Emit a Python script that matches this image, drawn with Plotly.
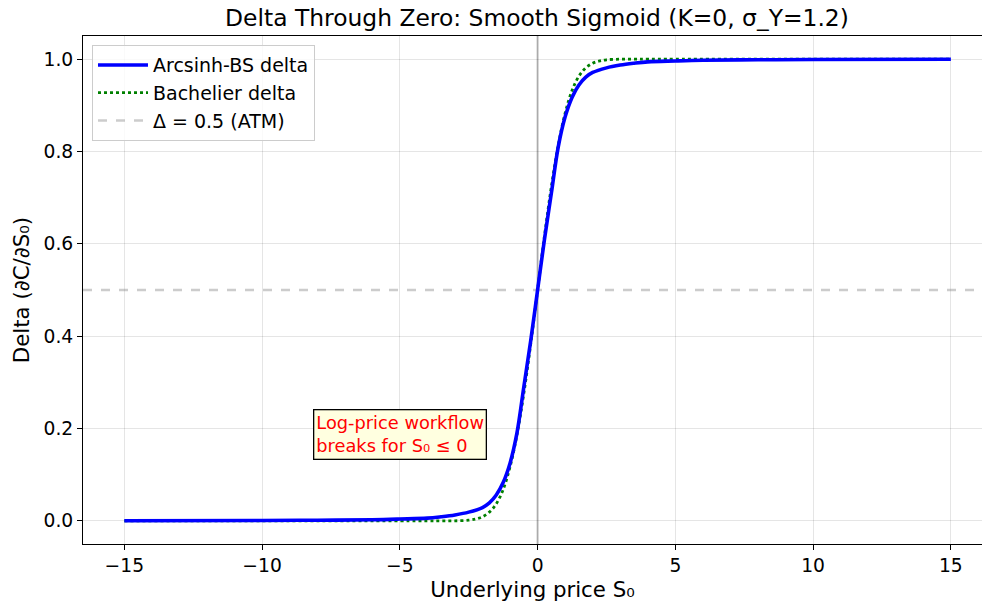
import plotly.graph_objects as go

# ---- data ----
s0_arcsinh = [-15, -10, -8, -6, -5, -4, -3.5, -3, -2.5, -2, -1.75, -1.5, -1.25, -1.0, -0.75, -0.5, -0.25,
              0, 0.25, 0.5, 0.75, 1.0, 1.25, 1.5, 1.75, 2, 2.5, 3, 3.5, 4, 5, 6, 8, 10, 15]
delta_arcsinh = [0.0005, 0.001, 0.0015, 0.0025, 0.004, 0.006, 0.009, 0.013, 0.019, 0.029, 0.039, 0.056, 0.083,
                 0.125, 0.19, 0.29, 0.39,
                 0.5, 0.61, 0.71, 0.81, 0.875, 0.917, 0.944, 0.961, 0.971, 0.981, 0.987, 0.991, 0.994,
                 0.996, 0.9975, 0.9985, 0.999, 0.9995]

s0_bach = [-15, -5, -4, -3.5, -3, -2.5, -2.25, -2, -1.75, -1.5, -1.25, -1.0, -0.75, -0.5, -0.25,
           0, 0.25, 0.5, 0.75, 1.0, 1.25, 1.5, 1.75, 2, 2.25, 2.5, 3, 3.5, 4, 5, 15]
delta_bach = [0.0, 0.0, 0.0, 0.0, 0.0002, 0.0015, 0.004, 0.009, 0.019, 0.037, 0.068, 0.117, 0.186, 0.276, 0.383,
              0.5, 0.617, 0.724, 0.814, 0.883, 0.932, 0.963, 0.981, 0.991, 0.996, 0.9985, 0.9998, 1.0, 1.0, 1.0, 1.0]

atm_level = 0.5
x_ticks = [-15, -10, -5, 0, 5, 10, 15]
x_tick_text = ["\u221215", "\u221210", "\u22125", "0", "5", "10", "15"]
y_ticks = [0.0, 0.2, 0.4, 0.6, 0.8, 1.0]
y_tick_text = ["0.0", "0.2", "0.4", "0.6", "0.8", "1.0"]

FONT = "DejaVu Sans"
ATM_COLOR = "rgba(128,128,128,0.4)"

fig = go.Figure()

# ATM reference line
fig.add_trace(go.Scatter(
    x=[-16.5, 16.5], y=[atm_level, atm_level], mode="lines",
    line=dict(color=ATM_COLOR, width=2.5, dash="dash"),
    name="\u0394 = 0.5 (ATM)", legendrank=3, hoverinfo="skip"))

fig.add_trace(go.Scatter(
    x=s0_bach, y=delta_bach, mode="lines", line_shape="spline",
    line=dict(color="green", width=2.8, dash="dot"),
    name="Bachelier delta", legendrank=2))

fig.add_trace(go.Scatter(
    x=s0_arcsinh, y=delta_arcsinh, mode="lines", line_shape="spline",
    line=dict(color="blue", width=3.6),
    name="Arcsinh-BS delta", legendrank=1))

# vertical line at zero
fig.add_shape(type="line", xref="x", yref="paper", x0=0, x1=0, y0=0, y1=1,
              line=dict(color="rgba(128,128,128,0.5)", width=2), layer="below")

fig.add_annotation(
    x=-8.17, y=0.132, xref="x", yref="y", xanchor="left", yanchor="bottom",
    text="Log-price workflow<br>breaks for S\u2080 \u2264 0", showarrow=False, align="left",
    font=dict(family=FONT, size=17.8, color="red"),
    bgcolor="lightyellow", bordercolor="black", borderwidth=1.3, borderpad=2)

fig.update_layout(
    width=982, height=606,
    margin=dict(l=83, r=0, t=36, b=62),
    paper_bgcolor="white", plot_bgcolor="white",
    font=dict(family=FONT, size=18.7, color="black"),
    title=dict(text="Delta Through Zero: Smooth Sigmoid (K=0, \u03c3_Y=1.2)",
               x=0.505, xref="paper", xanchor="center", y=0.971, yref="container", yanchor="middle",
               font=dict(family=FONT, size=23.4, color="black")),
    legend=dict(x=0.01, y=0.982, xanchor="left", yanchor="top",
                bgcolor="rgba(255,255,255,0.8)", bordercolor="#cccccc", borderwidth=1,
                font=dict(family=FONT, size=19), traceorder="normal",
                itemwidth=50),
    showlegend=True,
)

fig.update_xaxes(
    range=[-16.5, 16.13], tickvals=x_ticks, ticktext=x_tick_text,
    showgrid=True, gridcolor="rgba(0,0,0,0.1)", gridwidth=1, zeroline=False,
    showline=True, linecolor="black", linewidth=1, mirror=True,
    ticks="outside", ticklen=5, tickcolor="black", tickfont=dict(size=18.7),
    title=dict(text="Underlying price S\u2080", font=dict(size=21.3), standoff=6))

fig.update_yaxes(
    range=[-0.05, 1.05], tickvals=y_ticks, ticktext=y_tick_text,
    showgrid=True, gridcolor="rgba(0,0,0,0.1)", gridwidth=1, zeroline=False,
    showline=True, linecolor="black", linewidth=1, mirror=False,
    ticks="outside", ticklen=5, tickcolor="black", tickfont=dict(size=18.7),
    title=dict(text="Delta (\u2202C/\u2202S\u2080)", font=dict(size=21.3), standoff=8))

fig.write_html("out.html")
